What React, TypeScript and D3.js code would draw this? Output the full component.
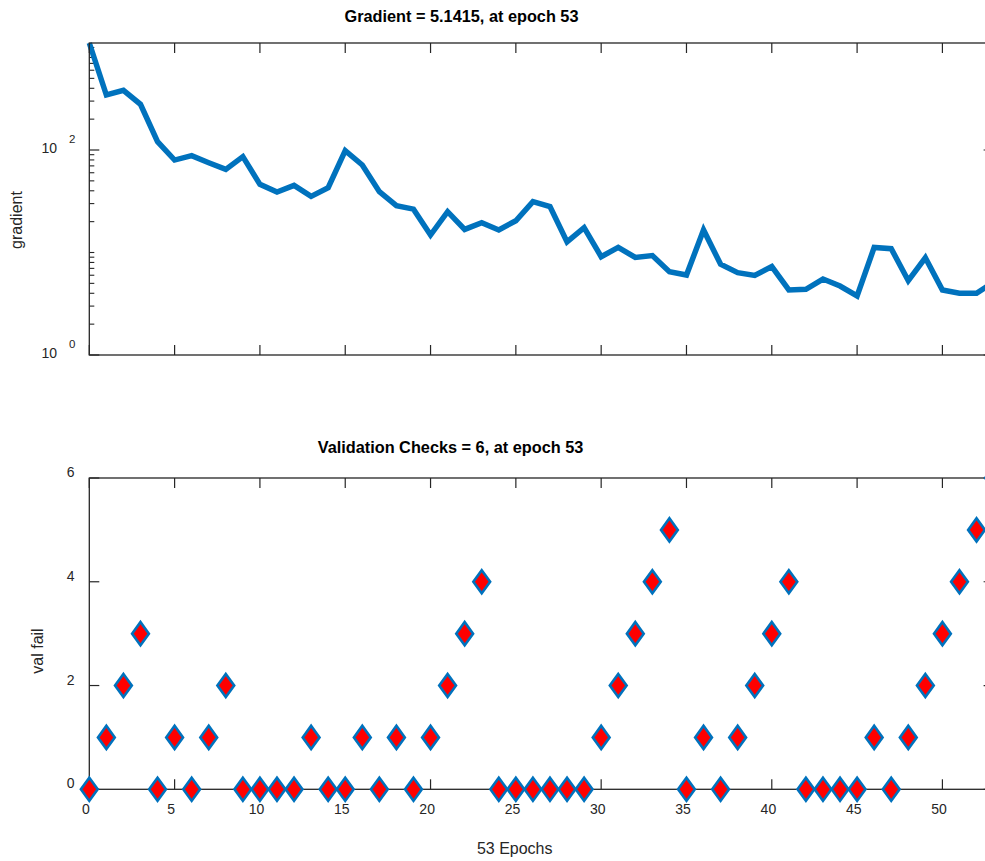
import React from "react";
import * as d3 from "d3";

const epochs = d3.range(0, 54);
const gradientValues = [
  1106, 344, 382, 279, 120.5, 79.8, 88.1, 75.2, 64.7, 86.1,
  46.2, 38.9, 45.2, 35.3, 42.9, 98.4, 71.4, 39.2, 28.6, 26.5,
  14.8, 25.0, 16.8, 19.5, 16.6, 20.4, 31.3, 28.0, 12.7, 17.5,
  9.10, 11.2, 8.95, 9.33, 6.50, 6.03, 16.6, 7.67, 6.35, 5.98,
  7.28, 4.31, 4.38, 5.51, 4.71, 3.77, 11.2, 10.9, 5.31, 8.89,
  4.31, 4.00, 4.00, 5.1415,
];
const valFail = [
  0, 1, 2, 3, 0, 1, 0, 1, 2, 0,
  0, 0, 0, 1, 0, 0, 1, 0, 1, 0,
  1, 2, 3, 4, 0, 0, 0, 0, 0, 0,
  1, 2, 3, 4, 5, 0, 1, 0, 1, 2,
  3, 4, 0, 0, 0, 0, 1, 0, 1, 2,
  3, 4, 5, 6,
];
const xTicks = [0, 5, 10, 15, 20, 25, 30, 35, 40, 45, 50];
const valTicks = [0, 2, 4, 6];
const gradMajorTicks = [0, 2]; // exponents labelled
const gradTitle = "Gradient = 5.1415, at epoch 53";
const valTitle = "Validation Checks = 6, at epoch 53";
const xLabel = "53 Epochs";

const FONT = "'Liberation Sans', Arial, Helvetica, sans-serif";
const TXT = "#262626";
const AX = "#262626";
const BLUE = "#0072BD";

export default function App() {
  const x = d3.scaleLinear().domain([0, 53]).range([89.3, 993.6]);
  const L = 89.3;
  const R = 993.6;

  // top plot
  const T1 = 43, B1 = 355;
  const yMax = Math.pow(10, 2 + (150 - T1) / 102.5);
  const yg = d3.scaleLog().domain([1, yMax]).range([B1, T1]);
  // bottom plot
  const T2 = 478, B2 = 789.3;
  const yv = d3.scaleLinear().domain([0, 6]).range([B2, T2]);

  const line = d3
    .line<number>()
    .x((_, i) => x(epochs[i]))
    .y((d) => yg(d));

  const minorTicks: number[] = [];
  for (let dec = 0; dec < 4; dec++) {
    for (let k = 1; k <= 9; k++) {
      const v = k * Math.pow(10, dec);
      if (v <= 1 || v > yMax) continue;
      if (v === 100) continue;
      minorTicks.push(v);
    }
  }

  const diamond = "M0,-11.6 L8.4,0 L0,11.6 L-8.4,0 Z";

  return (
    <svg
      width={985}
      height={861}
      style={{ position: "absolute", left: 0, top: 0, background: "#fff" }}
      fontFamily={FONT}
    >
      <rect x={0} y={0} width={985} height={861} fill="#fff" />

      {/* ===== Top plot ===== */}
      <text x={461.5} y={22} textAnchor="middle" fontSize={16.3} fontWeight="bold" fill="#000">
        {gradTitle}
      </text>
      {/* x ticks */}
      {xTicks.map((t) => (
        <g key={"gt" + t}>
          <line x1={x(t)} x2={x(t)} y1={T1} y2={T1 + 10} stroke={AX} strokeWidth={1.2} />
          <line x1={x(t)} x2={x(t)} y1={B1} y2={B1 - 10} stroke={AX} strokeWidth={1.2} />
        </g>
      ))}
      {/* y minor ticks */}
      {minorTicks.map((v) => (
        <g key={"gm" + v}>
          <line x1={L} x2={L + 5} y1={yg(v)} y2={yg(v)} stroke={AX} strokeWidth={1.1} />
          <line x1={R} x2={R - 5} y1={yg(v)} y2={yg(v)} stroke={AX} strokeWidth={1.1} />
        </g>
      ))}
      {gradMajorTicks.map((e) => {
        const yy = yg(Math.pow(10, e));
        return (
          <g key={"gM" + e}>
            <line x1={L} x2={L + 10} y1={yy} y2={yy} stroke={AX} strokeWidth={1.2} />
            <line x1={R} x2={R - 10} y1={yy} y2={yy} stroke={AX} strokeWidth={1.2} />
            <text x={49.2} y={yy + 2.6} textAnchor="middle" fontSize={14} fill={TXT}>
              10
            </text>
            <text x={72.2} y={yy - 6.8} textAnchor="middle" fontSize={11.5} fill={TXT}>
              {String(e)}
            </text>
          </g>
        );
      })}
      <path d={line(gradientValues) || ""} fill="none" stroke={BLUE} strokeWidth={5.5} strokeLinejoin="miter" strokeMiterlimit={3} />
      {/* box */}
      <rect x={L} y={T1} width={R - L} height={B1 - T1} fill="none" stroke={AX} strokeWidth={1.3} />
      <text
        transform={`translate(22,220) rotate(-90)`}
        textAnchor="middle"
        fontSize={16}
        fill={TXT}
      >
        gradient
      </text>

      {/* ===== Bottom plot ===== */}
      <text x={450.5} y={453} textAnchor="middle" fontSize={16.3} fontWeight="bold" fill="#000">
        {valTitle}
      </text>
      {xTicks.map((t) => (
        <g key={"vt" + t}>
          <line x1={x(t)} x2={x(t)} y1={T2} y2={T2 + 10} stroke={AX} strokeWidth={1.2} />
          <line x1={x(t)} x2={x(t)} y1={B2} y2={B2 - 10} stroke={AX} strokeWidth={1.2} />
          <text x={x(t) - 3.4} y={814} textAnchor="middle" fontSize={14} fill={TXT}>
            {String(t)}
          </text>
        </g>
      ))}
      {valTicks.map((t) => (
        <g key={"vy" + t}>
          <line x1={L} x2={L + 10} y1={yv(t)} y2={yv(t)} stroke={AX} strokeWidth={1.2} />
          <line x1={R} x2={R - 10} y1={yv(t)} y2={yv(t)} stroke={AX} strokeWidth={1.2} />
          <text x={74.5} y={yv(t) - 1} textAnchor="end" fontSize={14} fill={TXT}>
            {String(t)}
          </text>
        </g>
      ))}
      <rect x={L} y={T2} width={R - L} height={B2 - T2} fill="none" stroke={AX} strokeWidth={1.3} />
      {valFail.map((v, i) => (
        <path
          key={"d" + i}
          d={diamond}
          transform={`translate(${x(epochs[i])},${yv(v)})`}
          fill="#FF0000"
          stroke={BLUE}
          strokeWidth={2.6}
          strokeLinejoin="miter"
        />
      ))}
      <text
        transform={`translate(42.5,651) rotate(-90)`}
        textAnchor="middle"
        fontSize={16}
        fill={TXT}
      >
        val fail
      </text>
      <text x={514.7} y={853.5} textAnchor="middle" fontSize={16} fill={TXT}>
        {xLabel}
      </text>
    </svg>
  );
}
